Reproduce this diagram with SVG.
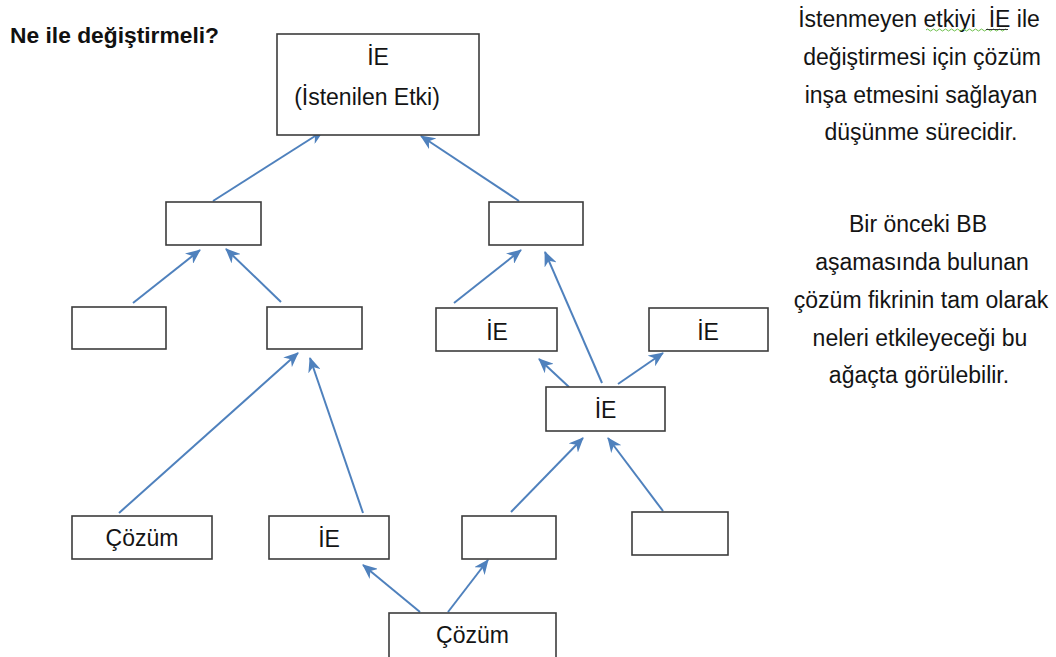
<svg xmlns="http://www.w3.org/2000/svg" width="1056" height="657" viewBox="0 0 1056 657">
  <style>
    .box { fill: #ffffff; stroke: #3c3c3c; stroke-width: 1.6; }
    .lbl { font-family: "Liberation Sans", Arial, sans-serif; font-size: 23px; fill: #141414; text-anchor: middle; }
    .note { font-family: "Liberation Sans", Arial, sans-serif; font-size: 23px; fill: #141414; text-anchor: middle; }
    .title { font-family: "Liberation Sans", Arial, sans-serif; font-size: 22.8px; font-weight: bold; fill: #111111; }
    .edge { stroke: #4f81bd; stroke-width: 2; fill: none; marker-end: url(#head); }
  </style>
  <defs>
    <marker id="head" markerUnits="userSpaceOnUse" markerWidth="15" markerHeight="13" viewBox="0 0 15 13" refX="14" refY="6.5" orient="auto">
      <path d="M0,0 L15,6.5 L0,13 L4.5,6.5 Z" fill="#4f81bd"/>
    </marker>
  </defs>

  <rect width="1056" height="657" fill="#ffffff"/>

  <text class="title" x="10" y="43">Ne ile değiştirmeli?</text>

  <!-- connectors -->
  <g id="connectors">
    <line class="edge" x1="213" y1="201" x2="323" y2="131"/>
    <line class="edge" x1="519" y1="201" x2="421" y2="136"/>
    <line class="edge" x1="133" y1="303" x2="200" y2="250"/>
    <line class="edge" x1="281" y1="302" x2="226" y2="249"/>
    <line class="edge" x1="454" y1="303" x2="521" y2="250"/>
    <line class="edge" x1="602" y1="383" x2="545" y2="252"/>
    <line class="edge" x1="569" y1="387" x2="539" y2="359"/>
    <line class="edge" x1="618" y1="384" x2="663" y2="353"/>
    <line class="edge" x1="119" y1="513" x2="298" y2="353"/>
    <line class="edge" x1="363" y1="513" x2="310" y2="358"/>
    <line class="edge" x1="511" y1="512" x2="583" y2="438"/>
    <line class="edge" x1="663" y1="511" x2="608" y2="438"/>
    <line class="edge" x1="420" y1="612" x2="363" y2="565"/>
    <line class="edge" x1="448" y1="612" x2="488" y2="560"/>
  </g>

  <!-- nodes -->
  <g id="n-top">
    <rect class="box" x="277" y="34" width="202" height="101"/>
    <text class="lbl" x="378" y="65">İE</text>
    <text class="lbl" x="367" y="105">(İstenilen Etki)</text>
  </g>
  <g id="n-r2a"><rect class="box" x="166" y="202" width="95" height="43"/></g>
  <g id="n-r2b"><rect class="box" x="489" y="202" width="94" height="43"/></g>
  <g id="n-r3a"><rect class="box" x="72" y="307" width="94" height="42"/></g>
  <g id="n-r3b"><rect class="box" x="267" y="307" width="95" height="42"/></g>
  <g id="n-r3c">
    <rect class="box" x="436" y="308" width="121" height="43"/>
    <text class="lbl" x="497" y="340">İE</text>
  </g>
  <g id="n-r3d">
    <rect class="box" x="649" y="308" width="119" height="43"/>
    <text class="lbl" x="708" y="340">İE</text>
  </g>
  <g id="n-mid">
    <rect class="box" x="546" y="387" width="119" height="44"/>
    <text class="lbl" x="605.5" y="418">İE</text>
  </g>
  <g id="n-b1">
    <rect class="box" x="72" y="516" width="140" height="43"/>
    <text class="lbl" x="142" y="546">Çözüm</text>
  </g>
  <g id="n-b2">
    <rect class="box" x="269" y="516" width="120" height="43"/>
    <text class="lbl" x="329" y="547">İE</text>
  </g>
  <g id="n-b3"><rect class="box" x="462" y="516" width="94" height="43"/></g>
  <g id="n-b4"><rect class="box" x="632" y="512" width="96" height="43"/></g>
  <g id="n-root">
    <rect class="box" x="389" y="613" width="167" height="47"/>
    <text class="lbl" x="472.5" y="643">Çözüm</text>
  </g>

  <!-- side notes -->
  <g id="note-1">
    <text class="note" x="919" y="27">İstenmeyen etkiyi&#160; İE ile</text>
    <text class="note" x="922" y="65">değiştirmesi için çözüm</text>
    <text class="note" x="921" y="103">inşa etmesini sağlayan</text>
    <text class="note" x="921" y="140">düşünme sürecidir.</text>
    <path d="M926,30 q1.5,-2 3,0 t3,0 t3,0 t3,0 t3,0 t3,0 t3,0 t3,0 t3,0 t3,0 t3,0 t3,0 t3,0 t3,0 t3,0 t3,0 t3,0 t3,0 t3,0 t3,0 t3,0 t3,0 t3,0 t3,0 t3,0 t3,0 t3,0" fill="none" stroke="#6cbf4a" stroke-width="1"/>
    <line x1="986" y1="29.5" x2="1008" y2="29.5" stroke="#333333" stroke-width="1"/>
  </g>
  <g id="note-2">
    <text class="note" x="918" y="232">Bir önceki BB</text>
    <text class="note" x="922" y="270">aşamasında bulunan</text>
    <text class="note" x="921" y="308">çözüm fikrinin tam olarak</text>
    <text class="note" x="920" y="346">neleri etkileyeceği bu</text>
    <text class="note" x="919" y="383">ağaçta görülebilir.</text>
  </g>
</svg>
